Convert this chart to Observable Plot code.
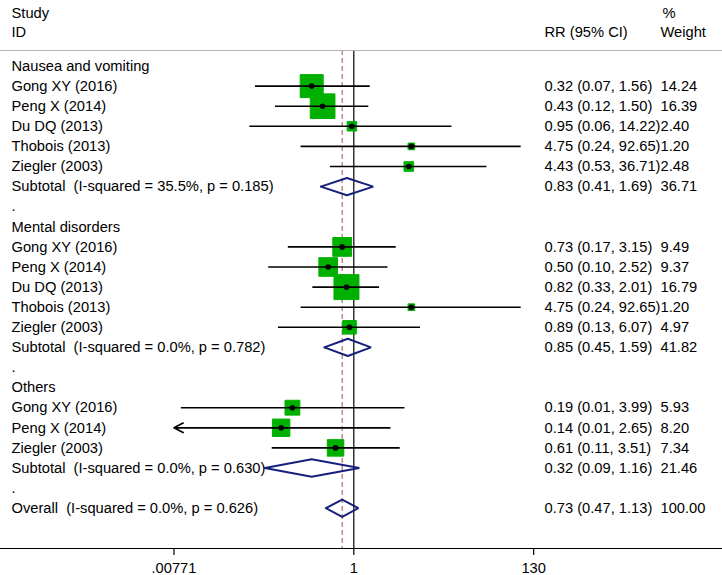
<!DOCTYPE html>
<html><head><meta charset="utf-8">
<script src="https://cdn.jsdelivr.net/npm/d3@7"></script>
<script src="https://cdn.jsdelivr.net/npm/@observablehq/plot@0.6"></script>
<style>
body{margin:0;background:#fff}
svg text{white-space:pre}
</style>
</head><body><div id="chart"></div>
<script>
// ---- data ----
const groupNames = ["Nausea and vomiting", "Mental disorders", "Others"];
const studyGroup = [0,0,0,0,0, 1,1,1,1,1, 2,2,2];
const studyIds = ["Gong XY (2016)","Peng X (2014)","Du DQ (2013)","Thobois (2013)","Ziegler (2003)",
                  "Gong XY (2016)","Peng X (2014)","Du DQ (2013)","Thobois (2013)","Ziegler (2003)",
                  "Gong XY (2016)","Peng X (2014)","Ziegler (2003)"];
const studyRR = [0.32,0.43,0.95,4.75,4.43, 0.73,0.50,0.82,4.75,0.89, 0.19,0.14,0.61];
const studyLo = [0.07,0.12,0.06,0.24,0.53, 0.17,0.10,0.33,0.24,0.13, 0.0094,0.007,0.11];
const studyHi = [1.56,1.50,14.22,92.65,36.71, 3.15,2.52,2.01,92.65,6.07, 3.99,2.65,3.51];
const studyWeight = [14.24,16.39,2.40,1.20,2.48, 9.49,9.37,16.79,1.20,4.97, 5.93,8.20,7.34];
const subI2 = [35.5, 0.0, 0.0];
const subP = [0.185, 0.782, 0.630];
const subRR = [0.83, 0.85, 0.32];
const subLo = [0.41, 0.45, 0.09];
const subHi = [1.69, 1.59, 1.16];
const subWeight = [36.71, 41.82, 21.46];
const overallI2 = 0.0, overallP = 0.626, overallRR = 0.73, overallLo = 0.47, overallHi = 1.13, overallWeight = 100.00;
const xTicks = [0.00771, 1, 130];
const xTickLabels = [".00771", "1", "130"];
const headerLeft = ["Study", "ID"];
const headerRR = ["RR (95% CI)"];
const headerWeight = ["%", "Weight"];

// ---- build rows ----
const fmtCI = (rr, lo, hi) => `${rr.toFixed(2)} (${lo.toFixed(2)}, ${hi.toFixed(2)})`;
const rows = [];
let r = 0;
groupNames.forEach((g, gi) => {
  rows.push({row: r++, kind: "group", label: g});
  studyIds.forEach((id, i) => {
    if (studyGroup[i] === gi) rows.push({row: r++, kind: "study", label: id, rr: studyRR[i], lo: studyLo[i], hi: studyHi[i], w: studyWeight[i]});
  });
  rows.push({row: r++, kind: "sub", label: `Subtotal  (I-squared = ${subI2[gi].toFixed(1)}%, p = ${subP[gi].toFixed(3)})`,
             rr: subRR[gi], lo: subLo[gi], hi: subHi[gi], w: subWeight[gi]});
  rows.push({row: r++, kind: "blank", label: "."});
});
rows.push({row: r, kind: "overall", label: `Overall  (I-squared = ${overallI2.toFixed(1)}%, p = ${overallP.toFixed(3)})`,
           rr: overallRR, lo: overallLo, hi: overallHi, w: overallWeight});

const xMin = xTicks[0];
const studies = rows.filter(d => d.kind === "study");
const pooled = rows.filter(d => d.kind === "sub" || d.kind === "overall");
const valued = rows.filter(d => d.rr !== undefined);
const dH = 0.43;
const diamonds = pooled.flatMap(d => [[d.lo, d.row], [d.rr, d.row - dH], [d.hi, d.row], [d.rr, d.row + dH], [d.lo, d.row]]
  .map(([x, y]) => ({x, y, id: d.row})));

const FONT = "Liberation Sans, Arial, Helvetica, sans-serif";
const FS = 14.7;
const navy = "#17207a";
const green = "#00b000";
const txt = {fontSize: FS, fill: "black", textAnchor: "start"};

const chart = Plot.plot({
  width: 722, height: 575,
  marginTop: 50, marginBottom: 27, marginLeft: 0, marginRight: 0,
  style: {fontFamily: FONT, fontSize: FS + "px", background: "white", color: "black"},
  x: {type: "log", domain: [xTicks[0], xTicks[2]], range: [173.5, 533.2]},
  y: {domain: [0, 22], range: [65.5, 507.7], axis: null},
  r: {type: "sqrt", domain: [0, 100], range: [0, 34.4]},
  marks: [
    Plot.ruleX([overallRR], {stroke: "#a8605c", strokeWidth: 1.1, strokeDasharray: "5,3"}),
    Plot.ruleX([1], {stroke: "black", strokeWidth: 1.2}),
    Plot.dot(studies, {x: "rr", y: "row", r: "w", symbol: "square", fill: green, stroke: green, strokeWidth: 1}),
    Plot.ruleY(studies.filter(d => d.lo >= xMin), {y: "row", x1: "lo", x2: "hi", stroke: "black", strokeWidth: 1.6}),
    Plot.arrow(studies.filter(d => d.lo < xMin), {x1: "hi", y1: "row", x2: () => xMin, y2: "row", stroke: "black", strokeWidth: 1.7, headLength: 9, headAngle: 55}),
    Plot.dot(studies, {x: "rr", y: "row", r: 2.8, fill: "black"}),
    Plot.line(diamonds, {x: "x", y: "y", z: "id", stroke: navy, strokeWidth: 2, strokeLinejoin: "miter", fill: "none"}),
    Plot.text(rows, {y: "row", text: "label", frameAnchor: "left", dx: 11, ...txt}),
    Plot.text(valued, {y: "row", text: d => fmtCI(d.rr, d.lo, d.hi), frameAnchor: "left", dx: 544, ...txt}),
    Plot.text(valued, {y: "row", text: d => d.w.toFixed(2), frameAnchor: "left", dx: 660, ...txt}),
    // header
    Plot.text([headerLeft[0]], {frameAnchor: "top-left", dx: 11, dy: -43, ...txt}),
    Plot.text([headerLeft[1]], {frameAnchor: "top-left", dx: 11, dy: -24, ...txt}),
    Plot.text(headerRR, {frameAnchor: "top-left", dx: 544, dy: -24, ...txt}),
    Plot.text([headerWeight[0]], {frameAnchor: "top-left", dx: 662, dy: -43, ...txt}),
    Plot.text([headerWeight[1]], {frameAnchor: "top-left", dx: 660, dy: -24, ...txt}),
    Plot.frame({anchor: "top", stroke: "#b4b4b4", strokeWidth: 1.2}),
    Plot.frame({anchor: "bottom", stroke: "black", strokeWidth: 1.2}),
    Plot.axisX({ticks: xTicks, tickFormat: () => "", tickSize: 7, label: null, stroke: "black", strokeWidth: 1.2}),
    Plot.text(xTicks, {x: d => d, text: (d, i) => xTickLabels[i], frameAnchor: "bottom", dy: 14, lineAnchor: "top", textAnchor: "middle", fontSize: FS, fill: "black"})
  ]
});

document.getElementById("chart").appendChild(chart);
</script>
</body></html>
